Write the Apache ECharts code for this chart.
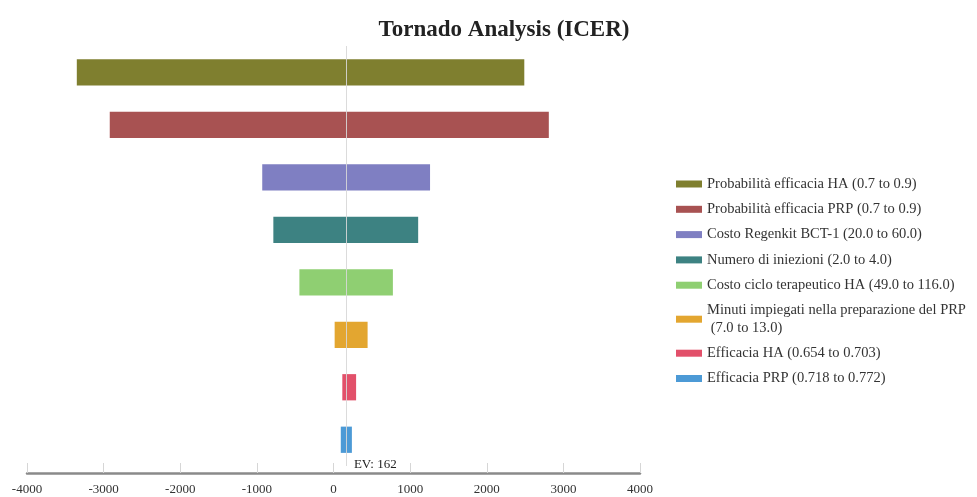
<!DOCTYPE html>
<html><head><meta charset="utf-8">
<script src="https://cdn.jsdelivr.net/npm/echarts@6/dist/echarts.min.js"></script>
<style>html,body{margin:0;padding:0;background:#fff}#c{width:977px;height:497px}</style>
</head><body><div id="c"></div>
<script>
const parameters = [
  "Probabilità efficacia HA (0.7 to 0.9)",
  "Probabilità efficacia PRP (0.7 to 0.9)",
  "Costo Regenkit BCT-1 (20.0 to 60.0)",
  "Numero di iniezioni (2.0 to 4.0)",
  "Costo ciclo terapeutico HA (49.0 to 116.0)",
  "Minuti impiegati nella preparazione del PRP\n (7.0 to 13.0)",
  "Efficacia HA (0.654 to 0.703)",
  "Efficacia PRP (0.718 to 0.772)"
];
const lowValues  = [-3350, -2920, -930, -785, -445, 15, 115, 95];
const highValues = [2490, 2810, 1260, 1105, 775, 445, 295, 240];
const colors = ["#7f7f2f", "#a85252", "#7f7fc2", "#3d8282", "#8fcf72", "#e3a630", "#e2506a", "#4c9ad6"];
const baseValue = 162;
const xTicks = [-4000, 4000, 1000];

const chart = echarts.init(document.getElementById('c'));
const serif = '"Liberation Serif", "Times New Roman", serif';

const series = parameters.map((name, i) => ({
  name: name,
  type: 'custom',
  itemStyle: { color: colors[i] },
  encode: { x: [1, 2], y: 0 },
  data: [[i, lowValues[i], highValues[i]]],
  renderItem: function (params, api) {
    const y = api.value(0);
    const p1 = api.coord([api.value(1), y]);
    const p2 = api.coord([api.value(2), y]);
    const h = api.size([0, 1])[1] * 0.5;
    return {
      type: 'rect',
      shape: { x: p1[0], y: p1[1] - h / 2, width: p2[0] - p1[0], height: h },
      style: { fill: colors[i] }
    };
  }
}));

series.push({
  name: 'ev',
  type: 'custom',
  data: [],
  renderItem: function () { return null; },
  markLine: {
    silent: true,
    symbol: 'none',
    z: 10,
    lineStyle: { color: 'rgba(215,215,215,0.9)', type: 'solid', width: 1 },
    label: { show: false },
    data: [{ xAxis: baseValue }]
  }
});

chart.setOption({
  animation: false,
  backgroundColor: '#fff',
  title: {
    text: 'Tornado Analysis (ICER)',
    left: 499, top: 14, textAlign: 'center',
    textStyle: { fontFamily: serif, fontSize: 23, fontWeight: 'bold', color: '#222' }
  },
  legend: {
    orient: 'vertical',
    left: 676, top: 175.3, padding: 0,
    itemWidth: 26, itemHeight: 7, itemGap: 7.9,
    icon: 'rect',
    data: parameters,
    textStyle: { fontFamily: serif, fontSize: 14.5, color: '#333', lineHeight: 17.4 }
  },
  grid: { left: 27, right: 337, top: 46, bottom: 31 },
  xAxis: {
    type: 'value',
    min: xTicks[0], max: xTicks[1], interval: xTicks[2],
    offset: 7,
    splitLine: { show: false },
    axisLine: { show: true, lineStyle: { color: '#8a8a8a', width: 2.5 } },
    axisTick: { show: true, inside: true, length: 10, lineStyle: { color: '#d6d6d6' } },
    axisLabel: { fontFamily: serif, fontSize: 13, color: '#333', margin: 10, formatter: v => String(v) }
  },
  yAxis: {
    type: 'category', inverse: true, show: false,
    data: parameters.map((_, i) => i)
  },
  series: series
});

const pt = chart.convertToPixel({ gridIndex: 0 }, [baseValue, parameters.length - 1]);
chart.setOption({
  graphic: [{
    type: 'text', left: pt[0] + 8, top: pt[1] + 18,
    style: { text: 'EV: ' + baseValue, font: '13px ' + serif, fill: '#222' }
  }]
});
</script></body></html>
